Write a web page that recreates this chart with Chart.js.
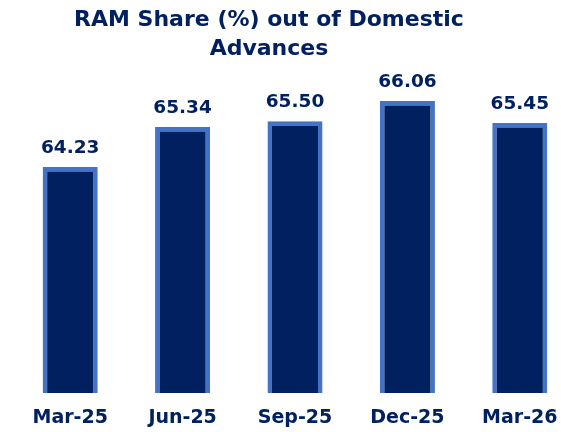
<!DOCTYPE html>
<html>
<head>
<meta charset="utf-8">
<script src="https://cdn.jsdelivr.net/npm/chart.js@4/dist/chart.umd.min.js"></script>
<style>
  html, body { margin: 0; padding: 0; background: #ffffff; overflow: hidden; }
  #wrap { position: relative; width: 600px; height: 432px; }
</style>
</head>
<body>
<div id="wrap"><canvas id="c" width="600" height="432"></canvas></div>
<script>
const categories = ['Mar-25', 'Jun-25', 'Sep-25', 'Dec-25', 'Mar-26'];
const ramShare = [64.23, 65.34, 65.50, 66.06, 65.45];
const titleLines = ['RAM Share (%) out of Domestic', 'Advances'];

const NAVY = '#002060';
const BORDER = '#4472C4';
const FONT = '"DejaVu Sans", sans-serif';

const valueLabels = {
  id: 'valueLabels',
  afterDatasetsDraw(chart) {
    const ctx = chart.ctx;
    const meta = chart.getDatasetMeta(0);
    ctx.save();
    ctx.fillStyle = NAVY;
    ctx.font = 'bold 18.5px ' + FONT;
    ctx.textAlign = 'center';
    ctx.textBaseline = 'alphabetic';
    meta.data.forEach((bar, i) => {
      ctx.fillText(ramShare[i].toFixed(2), bar.x, bar.y - 14);
    });
    ctx.restore();
  }
};

const shiftTitle = {
  id: 'shiftTitle',
  afterLayout(chart) {
    if (chart.titleBlock) {
      chart.titleBlock.left = 0;
      chart.titleBlock.right = 538;
    }
  }
};

new Chart(document.getElementById('c'), {
  type: 'bar',
  data: {
    labels: categories,
    datasets: [{
      data: ramShare,
      backgroundColor: NAVY,
      borderColor: BORDER,
      borderWidth: 4.5,
      borderSkipped: false,
      categoryPercentage: 1,
      barPercentage: 0.49
    }]
  },
  options: {
    responsive: false,
    animation: false,
    layout: { padding: { left: 14, right: 24, top: 0, bottom: 0 } },
    plugins: {
      legend: { display: false },
      tooltip: { enabled: false },
      title: {
        display: true,
        text: titleLines,
        color: NAVY,
        font: { family: FONT, size: 22, weight: 'bold', lineHeight: 1.3 },
        padding: { top: 6, bottom: 5 }
      }
    },
    scales: {
      x: {
        grid: { display: false, drawTicks: false },
        border: { display: false },
        ticks: {
          color: NAVY,
          padding: 14,
          font: { family: FONT, size: 19, weight: 'bold', lineHeight: 1.2 }
        },
        afterFit(scale) { scale.height = 39; }
      },
      y: {
        display: false,
        min: 57.97,
        max: 66.97
      }
    }
  },
  plugins: [valueLabels, shiftTitle]
});
</script>
</body>
</html>
